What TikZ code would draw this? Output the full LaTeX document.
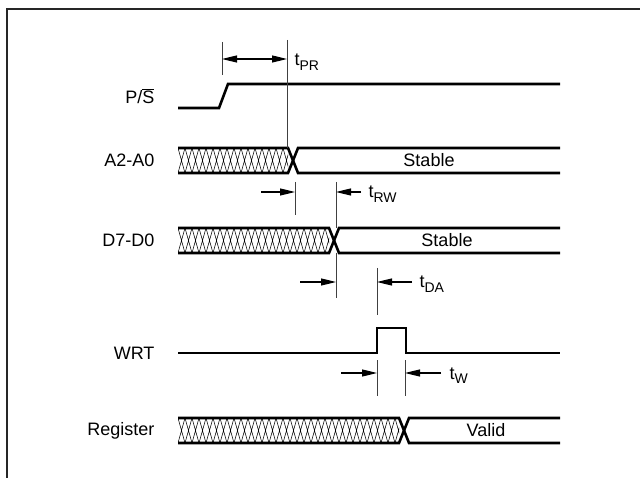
\documentclass[tikz,border=0pt]{standalone}
\usepackage{fontspec}
\setmainfont{Liberation Sans}
\usetikzlibrary{arrows.meta}

\newcommand{\tsub}[1]{t\raisebox{-4.5pt}{\fontsize{14}{14}\selectfont #1}}

\begin{document}
\begin{tikzpicture}[x=1pt,y=-1pt,
        sig/.style={line width=2.6pt, line join=miter},
        hatch/.style={line width=0.55pt},
        tick/.style={line width=1pt, black!75},
        dim/.style={line width=1.2pt, -{Triangle[length=15pt,width=7pt]}},
        lbl/.style={anchor=east, font=\fontsize{18}{20}\selectfont},
        txt/.style={font=\fontsize{18}{20}\selectfont},
        tlbl/.style={anchor=base west, font=\fontsize{18}{20}\selectfont}]
                \useasboundingbox (0,0) rectangle (640,478);
                \draw[line width=2.5pt, black!85] (7,478) -- (7,9) -- (640,9);
                % signal names
                \node[lbl] (ps) at (158,96) {P/$\overline{\mbox{S}}$};
                \node[lbl] (addr) at (158,160.5) {A2-A0};
                \node[lbl] (data) at (158,240.5) {D7-D0};
                \node[lbl] (wrt) at (158,353) {WRT};
                \node[lbl] (reg) at (158,430.5) {Register};
                % P/S
                \draw[sig] (178,108) -- (219,108) -- (228,84) -- (560,84);
                % A2-A0
                \begin{scope}
                    \clip (178,148) rectangle (288,173);
                    \foreach \x in {178,185,...,290}
                        \draw[hatch] (\x,148) -- ++(7,25) (\x,173) -- ++(7,-25);
                \end{scope}
                \draw[sig] (178,148) -- (288,148) -- (298,173) -- (560,173);
                \draw[sig] (178,173) -- (288,173) -- (298,148) -- (560,148);
                \node[txt] (addrv) at (429,160.5) {Stable};
                % D7-D0
                \begin{scope}
                    \clip (178,228) rectangle (329,253);
                    \foreach \x in {178,185,...,330}
                        \draw[hatch] (\x,228) -- ++(7,25) (\x,253) -- ++(7,-25);
                \end{scope}
                \draw[sig] (178,228) -- (329,228) -- (339,253) -- (560,253);
                \draw[sig] (178,253) -- (329,253) -- (339,228) -- (560,228);
                \node[txt] (datav) at (447,240.5) {Stable};
                % WRT
                \draw[sig] (178,353) -- (377,353) -- (377,328) -- (406,328) -- (406,353) -- (560,353);
                % Register
                \begin{scope}
                    \clip (178,418) rectangle (399,443);
                    \foreach \x in {178,185,...,400}
                        \draw[hatch] (\x,418) -- ++(7,25) (\x,443) -- ++(7,-25);
                \end{scope}
                \draw[sig] (178,418) -- (399,418) -- (409,443) -- (560,443);
                \draw[sig] (178,443) -- (399,443) -- (409,418) -- (560,418);
                \node[txt] (regv) at (486,430.5) {Valid};
                % t_PR
                \coordinate (prA) at (222,42);
                \coordinate (prB) at (222,75);
                \coordinate (prC) at (287,40);
                \coordinate (prD) at (287,148);
                \draw[tick] (prA) -- (prB);
                \draw[tick] (prC) -- (prD);
                \coordinate (prL) at (222,59);
                \coordinate (prR) at (287,59);
                \draw[dim, {Triangle[length=15pt,width=7pt]}-{Triangle[length=15pt,width=7pt]}] (prL) -- (prR);
                \node[tlbl] (tpr) at (291,66) {\tsub{PR}};
                % t_RW
                \coordinate (rwA) at (295,182);
                \coordinate (rwB) at (295,215);
                \coordinate (rwC) at (336,182);
                \coordinate (rwD) at (336,228);
                \draw[tick] (rwA) -- (rwB);
                \draw[tick] (rwC) -- (rwD);
                \coordinate (rwL) at (261,192);
                \coordinate (rwR) at (361,192);
                \draw[dim] (rwL) -- (rwA |- rwL);
                \draw[dim] (rwR) -- (rwC |- rwR);
                \node[tlbl] (trw) at (365,198) {\tsub{RW}};
                % t_DA
                \coordinate (daA) at (336,253);
                \coordinate (daB) at (336,298);
                \coordinate (daC) at (377,268);
                \coordinate (daD) at (377,315);
                \draw[tick] (daA) -- (daB);
                \draw[tick] (daC) -- (daD);
                \coordinate (daL) at (300,282);
                \coordinate (daR) at (412,282);
                \draw[dim] (daL) -- (daA |- daL);
                \draw[dim] (daR) -- (daC |- daR);
                \node[tlbl] (tda) at (416,288) {\tsub{DA}};
                % t_W
                \coordinate (wA) at (377,360);
                \coordinate (wB) at (377,396);
                \coordinate (wC) at (405,360);
                \coordinate (wD) at (405,396);
                \draw[tick] (wA) -- (wB);
                \draw[tick] (wC) -- (wD);
                \coordinate (wL) at (341,373);
                \coordinate (wR) at (441,373);
                \draw[dim] (wL) -- (wA |- wL);
                \draw[dim] (wR) -- (wC |- wR);
                \node[tlbl] (tw) at (446,379) {\tsub{W}};
\end{tikzpicture}
\end{document}
